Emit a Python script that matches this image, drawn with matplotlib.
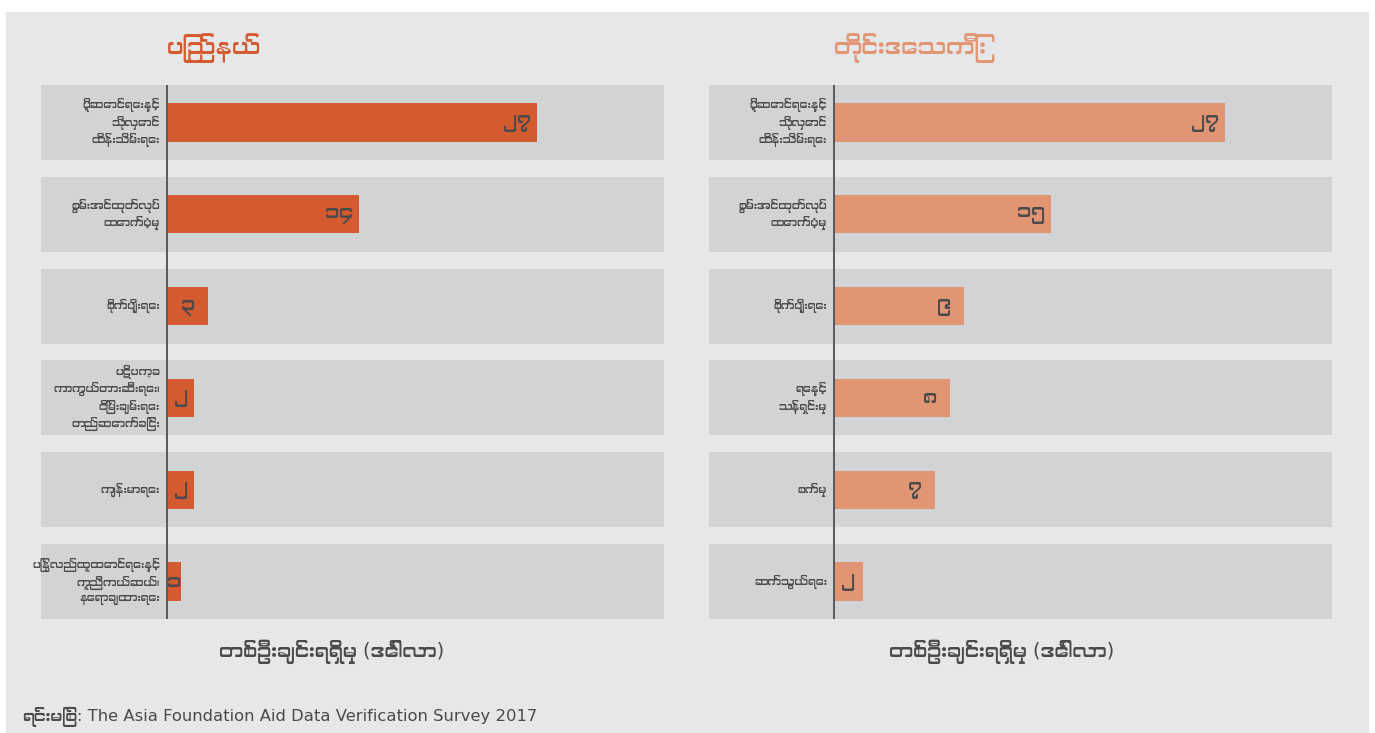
import matplotlib
matplotlib.use("Agg")
import matplotlib.pyplot as plt
from matplotlib import font_manager
from matplotlib.patches import Rectangle

# Data (per-person aid, dollars)
left_title = "ပြည်နယ်"
left_cats = [
    "ပို့ဆောင်ရေးနှင့်\nသိုလှောင်\nထိန်းသိမ်းရေး",
    "စွမ်းအင်ထုတ်လုပ်\nထောက်ပံ့မှု",
    "စိုက်ပျိုးရေး",
    "ပဋိပက္ခ\nကာကွယ်တားဆီးရေး၊\nငြိမ်းချမ်းရေး\nတည်ဆောက်ခြင်း",
    "ကျန်းမာရေး",
    "ပြန်လည်ထူထောင်ရေးနှင့်\nကူညီကယ်ဆယ်၊\nနေရာချထားရေး",
]
left_vals = [27, 14, 3, 2, 2, 1]

right_title = "တိုင်းဒေသကြီး"
right_cats = [
    "ပို့ဆောင်ရေးနှင့်\nသိုလှောင်\nထိန်းသိမ်းရေး",
    "စွမ်းအင်ထုတ်လုပ်\nထောက်ပံ့မှု",
    "စိုက်ပျိုးရေး",
    "ရေနှင့်\nသန့်ရှင်းမှု",
    "စက်မှု",
    "ဆက်သွယ်ရေး",
]
right_vals = [27, 15, 9, 8, 7, 2]

xlabel = "တစ်ဦးချင်းရရှိမှု (ဒေါ်လာ)"
source_mm = "ရင်းမြစ်"
source_en = ": The Asia Foundation Aid Data Verification Survey 2017"

MM_DIGITS = str.maketrans("0123456789", "၀၁၂၃၄၅၆၇၈၉")


def myanmar_fonts():
    # look for any installed font that has Myanmar glyphs
    names = []
    try:
        from fontTools.ttLib import TTFont
    except ImportError:
        return names
    for f in font_manager.fontManager.ttflist:
        if f.name in names:
            continue
        try:
            tt = TTFont(f.fname, fontNumber=0, lazy=True)
            cmap = tt.getBestCmap()
            if cmap and 0x1000 in cmap and 0x1041 in cmap:
                names.append(f.name)
        except Exception:
            pass

    def rank(name):
        low = name.lower()
        if any(k in low for k in ("myanmar", "padauk", "pyidaungsu")):
            return 0
        if "mono" in low or "unifont" in low or "code" in low:
            return 2
        return 1
    return sorted(names, key=rank)


# Latin text in DejaVu Sans, Myanmar glyphs from whatever font has them
families = ["DejaVu Sans"] + myanmar_fonts()
plt.rcParams["font.family"] = families

W, H = 1375, 733
BG = "#e6e7e8"
BAND = "#d1d3d4"
TEXT = "#4a4a4c"

fig = plt.figure(figsize=(W / 100, H / 100), dpi=100, facecolor="white")
fig.patches.append(Rectangle((6 / W, 0), (1368 - 6) / W, (H - 12) / H,
                             transform=fig.transFigure, color=BG, zorder=-10))


def panel(x0, x1, x_axis, px_per_unit, cats, vals, title, color, label_x):
    ax = fig.add_axes([x0 / W, 1 - 619 / H, (x1 - x0) / W, (619 - 85) / H])
    lo = -(x_axis - x0) / px_per_unit
    hi = (x1 - x_axis) / px_per_unit
    n = len(cats)
    ys = list(range(n))
    band_h = 0.817
    ax.barh(ys, [hi - lo] * n, left=lo, height=band_h, color=BAND, zorder=0)
    ax.barh(ys, vals, height=0.414, color=color, zorder=2)
    ax.axvline(0, color="#58595b", lw=1.4, zorder=3)
    for y, v, c in zip(ys, vals, cats):
        xc = v - min(20 / px_per_unit, v / 2)
        ax.text(xc, y, str(v).translate(MM_DIGITS), ha="center", va="center",
                fontsize=14, color=TEXT, zorder=4)
        ax.annotate(c, (0, y), xytext=(-5, 0), textcoords="offset points",
                    ha="right", va="center", fontsize=7.8, color=TEXT,
                    linespacing=1.35, multialignment="right", zorder=4)
    ax.set_xlim(lo, hi)
    ax.set_ylim(n - 1 + band_h / 2, -band_h / 2)
    ax.axis("off")
    fig.text(x_axis / W, 1 - 48 / H, title, color=color, fontsize=16.5,
             ha="left", va="center")
    fig.text(label_x / W, 1 - 652 / H, xlabel, color=TEXT, fontsize=14,
             ha="center", va="center")
    return ax


panel(41, 664, 167, 370 / 27, left_cats, left_vals, left_title, "#d45a30", 332)
panel(709, 1332, 834, 391 / 27, right_cats, right_vals, right_title, "#e29572", 1002)

t = fig.text(22 / W, 1 - 717 / H, source_mm, color=TEXT, fontsize=11.8,
             style="italic", ha="left", va="center")
fig.canvas.draw()
bb = t.get_window_extent()
fig.text(bb.x1 / W, 1 - 717 / H, source_en, color=TEXT, fontsize=11.8,
         ha="left", va="center")

fig.savefig("out.png", dpi=100, facecolor="white")
